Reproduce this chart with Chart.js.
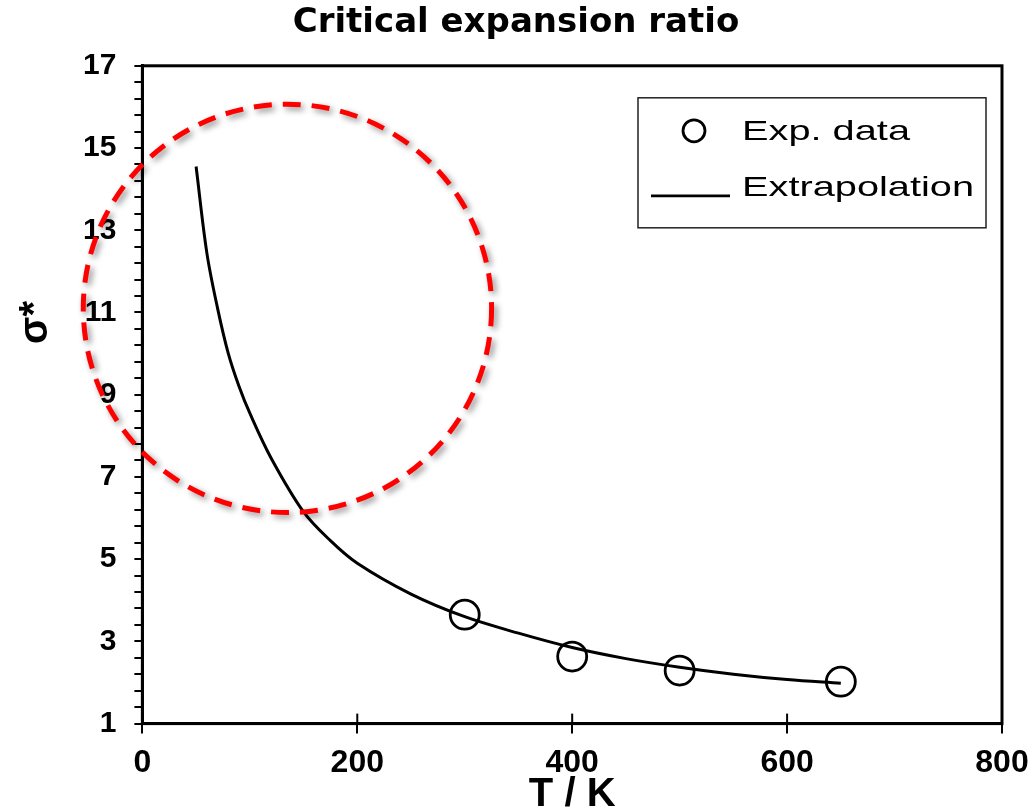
<!DOCTYPE html>
<html>
<head>
<meta charset="utf-8">
<script src="https://cdn.jsdelivr.net/npm/chart.js@4.4.1/dist/chart.umd.min.js"></script>
<style>
  html, body { margin: 0; padding: 0; background: #fff; }
  #wrap { width: 1032px; height: 811px; }
</style>
</head>
<body>
<div id="wrap"><canvas id="my-chart" width="1032" height="811"></canvas></div>
<script>
// measured points
const expT = [300, 400, 500, 650];
const expSigma = [3.65, 2.63, 2.29, 2.02];

// extrapolation curve
const fitT = [50, 60, 70, 80, 90, 100, 120, 150, 175, 200, 250, 300, 350, 400, 450, 500, 550, 600, 650];
const fitSigma = [14.55, 12.45, 11.1, 10.0, 9.2, 8.55, 7.45, 6.15, 5.45, 4.9, 4.15, 3.6, 3.2, 2.85, 2.58, 2.37, 2.2, 2.07, 1.98];

const xTicks = [0, 200, 400, 600, 800];
const yTicks = [1, 3, 5, 7, 9, 11, 13, 15, 17];

const seriesNames = ["Exp. data", "Extrapolation"];

// red dashed highlight ring (data units)
const ringCenter = { x: 135, y: 11.1 };
const ringRadiusT = 190;

const FONT = "'Liberation Sans', Arial, sans-serif";

const frame = {
  id: "frame",
  afterDraw(chart) {
    const { ctx, chartArea: a, scales } = chart;
    const ds = chart.data.datasets;
    ctx.save();

    // box round the plot
    ctx.strokeStyle = "#000";
    ctx.lineWidth = 3;
    ctx.strokeRect(a.left, a.top, a.right - a.left, a.bottom - a.top);

    // x ticks cross the axis
    ctx.lineWidth = 2;
    xTicks.forEach(v => {
      const px = scales.x.getPixelForValue(v);
      ctx.beginPath();
      ctx.moveTo(px, a.bottom);
      ctx.lineTo(px, a.bottom - 10);
      ctx.stroke();
    });

    // legend box
    const bw = 348, bh = 130;
    const bx = a.right - 16 - bw, by = a.top + 32;
    ctx.lineWidth = 1.5;
    ctx.strokeStyle = "#222";
    ctx.strokeRect(bx, by, bw, bh);

    ctx.lineWidth = 2.8;
    ctx.strokeStyle = "#000";
    ctx.beginPath();
    ctx.arc(bx + 56, by + 33, 11, 0, Math.PI * 2);
    ctx.stroke();
    ctx.beginPath();
    ctx.moveTo(bx + 13, by + 98);
    ctx.lineTo(bx + 92, by + 98);
    ctx.stroke();

    ctx.fillStyle = "#000";
    ctx.font = "28px " + FONT;
    ctx.textBaseline = "middle";
    ctx.textAlign = "left";
    [[ds[0].label, by + 34], [ds[1].label, by + 90]].forEach(([t, y]) => {
      ctx.save();
      ctx.translate(bx + 104, y);
      ctx.scale(1.42, 1);
      ctx.fillText(t, 0, 0);
      ctx.restore();
    });

    // dashed ring
    const cx = scales.x.getPixelForValue(ringCenter.x);
    const cy = scales.y.getPixelForValue(ringCenter.y);
    const r = scales.x.getPixelForValue(ringRadiusT) - scales.x.getPixelForValue(0);
    ctx.shadowColor = "rgba(0,0,0,0.45)";
    ctx.shadowBlur = 6;
    ctx.shadowOffsetX = 3;
    ctx.shadowOffsetY = 3;
    ctx.strokeStyle = "#ff0000";
    ctx.lineWidth = 5;
    ctx.setLineDash([18, 11]);
    ctx.beginPath();
    ctx.arc(cx, cy, r, 0, Math.PI * 2);
    ctx.stroke();

    ctx.restore();
  }
};

const data = {
  datasets: [
    {
      label: seriesNames[0],
      data: expT.map((t, i) => ({ x: t, y: expSigma[i] })),
      showLine: false,
      pointStyle: "circle",
      pointRadius: 14.5,
      pointBorderWidth: 2.8,
      pointBorderColor: "#000",
      pointBackgroundColor: "rgba(0,0,0,0)",
    },
    {
      label: seriesNames[1],
      data: fitT.map((t, i) => ({ x: t, y: fitSigma[i] })),
      showLine: true,
      borderColor: "#000",
      borderWidth: 3,
      pointRadius: 0,
      tension: 0.35,
    },
  ],
};

const config = {
  type: "scatter",
  data: data,
  plugins: [frame],
  options: {
    responsive: false,
    animation: false,
    layout: {
      padding: { left: 0, right: 0, top: 0, bottom: 0 },
    },
    plugins: {
      legend: { display: false },
      tooltip: { enabled: false },
      title: {
        display: true,
        text: "Critical expansion ratio",
        color: "#000",
        font: { family: "'DejaVu Sans', sans-serif", weight: "bold", size: 34 },
        padding: { top: 3, bottom: 22 },
      },
    },
    scales: {
      x: {
        type: "linear",
        min: 0,
        max: 800,
        afterBuildTicks: (scale) => {
          scale.ticks = xTicks.map(v => ({ value: v }));
        },
        afterFit: (scale) => {
          scale.paddingRight = 30;
        },
        ticks: {
          color: "#000",
          padding: 10,
          font: { family: FONT, weight: "bold", size: 32 },
        },
        grid: {
          drawOnChartArea: false,
          tickLength: 10,
          color: "#000",
          lineWidth: 2,
        },
        border: { color: "#000", width: 3 },
        title: {
          display: true,
          text: "T / K",
          color: "#000",
          font: { family: FONT, weight: "bold", size: 40, lineHeight: 1 },
          padding: { top: -17, bottom: -4 },
        },
      },
      y: {
        min: 1,
        max: 17,
        ticks: {
          stepSize: 0.4,
          autoSkip: false,
          color: "#000",
          padding: 18,
          font: { family: FONT, weight: "bold", size: 30 },
          callback: (v) => yTicks.some(t => Math.abs(t - v) < 1e-6) ? String(Math.round(v)) : "",
        },
        grid: {
          drawOnChartArea: false,
          tickLength: 8,
          color: "#000",
          lineWidth: 2,
        },
        border: { color: "#000", width: 3 },
        title: {
          display: true,
          text: "             σ*",
          color: "#000",
          font: { family: FONT, weight: "bold", size: 40, lineHeight: 1 },
          padding: { top: 16, bottom: 9 },
        },
      },
    },
  },
};

const myChart = new Chart(document.getElementById("my-chart"), config);
</script>
</body>
</html>
